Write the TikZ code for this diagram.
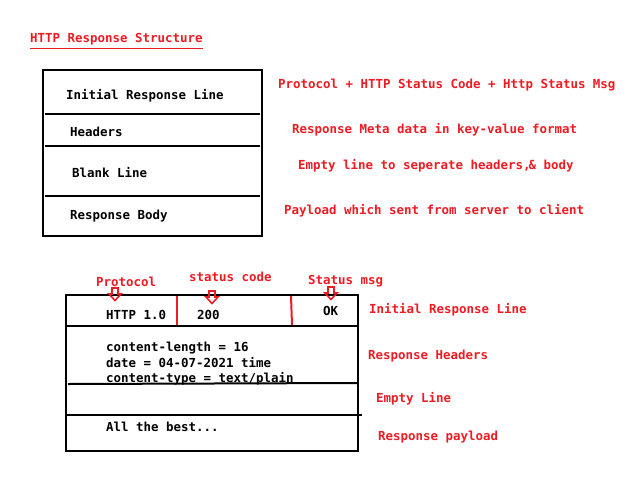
\documentclass[tikz,border=0pt]{standalone}
\usepackage{fontspec}
\setmainfont{DejaVu Sans Mono}
\definecolor{pred}{RGB}{237,28,36}
\begin{document}
\begin{tikzpicture}[x=1pt,y=-1pt,
  txt/.style={anchor=base west,inner sep=0pt,font=\fontsize{12.45}{15}\selectfont\bfseries},
  lbl/.style={txt,text=pred},
  frame/.style={draw=black,line width=2pt},
  sep/.style={draw=black,line width=2pt},
  rsep/.style={draw=pred,line width=2pt},
  downarrow/.pic={\draw[pred,line width=1.6pt,line join=miter] (-3,0) -- (3,0) -- (3,6) -- (6,6) -- (0,12.5) -- (-6,6) -- (-3,6) -- cycle;}
]
\useasboundingbox (0,0) rectangle (628,487);
\fill[white] (0,0) rectangle (628,487);

% title
\node[lbl] (title) at (30,43) {HTTP Response Structure};
\draw[pred,line width=1pt] (title.south west) ++(0,3) coordinate (ul1) -- (title.south east |- ul1);

% box 1
\draw[frame] (43,70) rectangle (262,236);
\draw[sep] (45,114) -- (260,114);
\draw[sep] (45,146) -- (260,146);
\draw[sep] (45,196) -- (260,196);
\node[txt] (irl) at (66,99) {Initial Response Line};
\node[txt] (hdr) at (70,136) {Headers};
\node[txt] (blk) at (72,177) {Blank Line};
\node[txt] (bdy) at (70,219) {Response Body};

\node[lbl] (d1) at (278,88) {Protocol + HTTP Status Code + Http Status Msg};
\node[lbl] (d2) at (292,133) {Response Meta data in key-value format};
\node[lbl] (d3) at (298,169) {Empty line to seperate headers,\kern-2pt\& body};
\node[lbl] (d4) at (284,214) {Payload which sent from server to client};

% box 2
\draw[frame] (66,295) rectangle (358,451);
\draw[sep] (67,326) -- (357,326);
\draw[sep] (68,384) -- (357,383);
\draw[sep] (67,415) -- (362,415);
\draw[rsep] (177,296) -- (177,325);
\draw[rsep] (291,296) -- (292,325);

\node[txt] (proto) at (106,319) {HTTP 1.0};
\node[txt] (code) at (197,319) {200};
\node[txt] (msg) at (323,315) {OK};
\node[txt] (h1) at (106,351) {content-length = 16};
\node[txt] (h2) at (106,367) {date = 04-07-2021 time};
\node[txt] (h3) at (106,382) {content-type = text/plain};
\node[txt] (pay) at (106,431) {All the best...};

\node[lbl] (lp) at (96,286) {Protocol};
\node[lbl] (lc) at (189,281) {status code};
\node[lbl] (lm) at (308,284) {Status msg};
\pic at (115,288) {downarrow};
\pic at (212,291) {downarrow};
\pic at (331,287) {downarrow};

\node[lbl] (r1) at (369,313) {Initial Response Line};
\node[lbl] (r2) at (368,359) {Response Headers};
\node[lbl] (r3) at (376,402) {Empty Line};
\node[lbl] (r4) at (378,440) {Response payload};
\end{tikzpicture}
\end{document}
